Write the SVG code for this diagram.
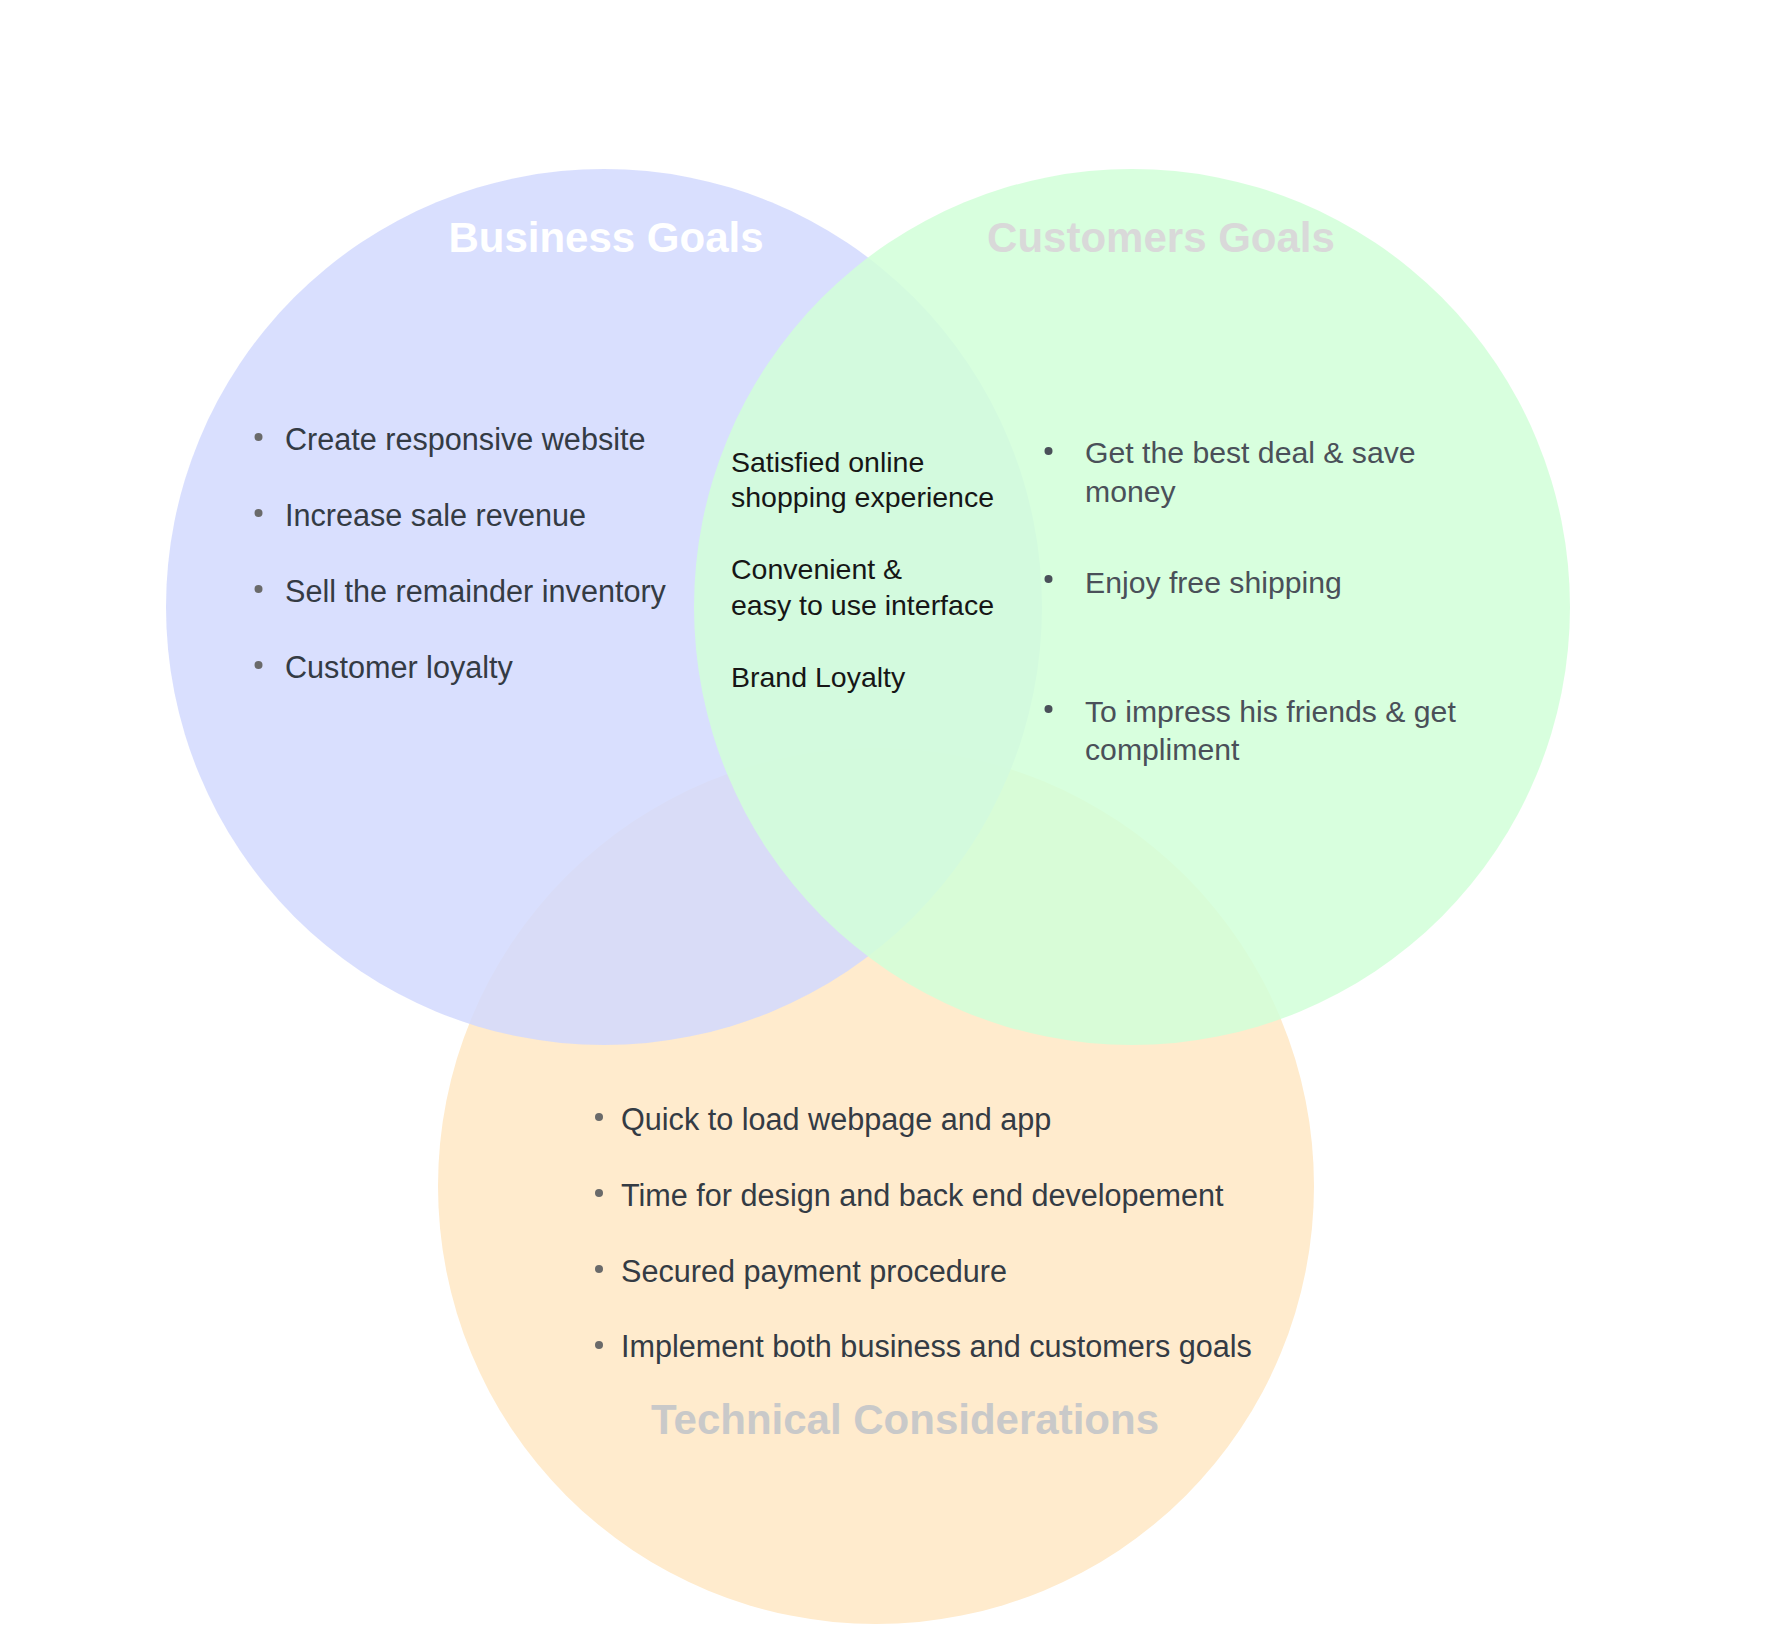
<svg xmlns="http://www.w3.org/2000/svg" width="1792" height="1648" viewBox="0 0 1792 1648">
<style>
.c{fill-opacity:0.85}
.h{font-family:"Liberation Sans",Arial,sans-serif;font-weight:bold;font-size:42px;text-anchor:middle}
.t{font-family:"Liberation Sans",Arial,sans-serif;font-size:30.6px;fill:#343b44}
.tr{font-family:"Liberation Sans",Arial,sans-serif;font-size:30.2px;fill:#4a5059}
.tm{font-family:"Liberation Sans",Arial,sans-serif;font-size:28.5px;fill:#161616}
.b{fill:#6a6a6a}
.br{fill:#4a5059}
</style>
<rect width="1792" height="1648" fill="#ffffff"/>
<g id="connectors"/>
<g id="technical">
<circle cx="876" cy="1186" r="438" fill="#ffebcd"/>
<circle class="b" cx="599" cy="1117" r="4"/>
<circle class="b" cx="599" cy="1193" r="4"/>
<circle class="b" cx="599" cy="1269" r="4"/>
<circle class="b" cx="599" cy="1345" r="4"/>
<text class="t" x="621" y="1130">Quick to load webpage and app</text>
<text class="t" x="621" y="1206">Time for design and back end developement</text>
<text class="t" x="621" y="1282">Secured payment procedure</text>
<text class="t" x="621" y="1357">Implement both business and customers goals</text>
<text class="h" x="905" y="1434" fill="#c9c9c9">Technical Considerations</text>
</g>
<g id="business">
<circle class="c" cx="604" cy="607" r="438" fill="#d2d9fe"/>
<text class="h" x="606" y="252" fill="#ffffff">Business Goals</text>
<circle class="b" cx="258.5" cy="437" r="4"/>
<circle class="b" cx="258.5" cy="513" r="4"/>
<circle class="b" cx="258.5" cy="589" r="4"/>
<circle class="b" cx="258.5" cy="665" r="4"/>
<text class="t" x="285" y="450">Create responsive website</text>
<text class="t" x="285" y="526">Increase sale revenue</text>
<text class="t" x="285" y="602">Sell the remainder inventory</text>
<text class="t" x="285" y="678">Customer loyalty</text>
</g>
<g id="customers">
<circle class="c" cx="1132" cy="607" r="438" fill="#d1ffd8"/>
<text class="h" x="1161" y="252" fill="#d9d9d9">Customers Goals</text>
<circle class="br" cx="1048.5" cy="451" r="4"/>
<circle class="br" cx="1048.5" cy="579" r="4"/>
<circle class="br" cx="1048.5" cy="709" r="4"/>
<text class="tr" x="1085" y="463">Get the best deal &amp; save</text>
<text class="tr" x="1085" y="502">money</text>
<text class="tr" x="1085" y="593">Enjoy free shipping</text>
<text class="tr" x="1085" y="722">To impress his friends &amp; get</text>
<text class="tr" x="1085" y="760">compliment</text>
</g>
<g id="shared">
<text class="tm" x="731" y="472">Satisfied online</text>
<text class="tm" x="731" y="507">shopping experience</text>
<text class="tm" x="731" y="579">Convenient &amp;</text>
<text class="tm" x="731" y="615">easy to use interface</text>
<text class="tm" x="731" y="687">Brand Loyalty</text>
</g>
</svg>
